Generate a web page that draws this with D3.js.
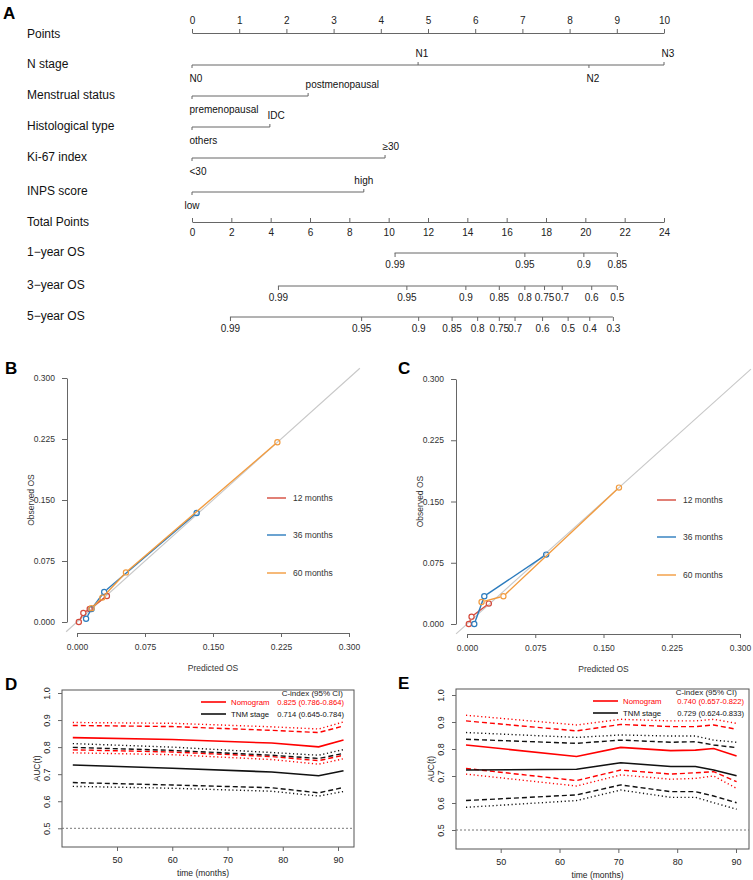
<!DOCTYPE html>
<html>
<head>
<meta charset="utf-8">
<script src="https://cdn.jsdelivr.net/npm/d3@7"></script>
<style>
body { margin: 0; background: #fff; }
text { font-family: "Liberation Sans", Arial, Helvetica, sans-serif; }
</style>
</head>
<body>
<svg id="fig" width="753" height="880"></svg>
<script>
// ---------- nomogram values ----------
var pointsTicks = d3.range(0, 11, 1);
var pointsMinor = d3.range(0, 10.01, 0.2);
var nStageLevels = ["N0", "N1", "N2", "N3"];
var nStagePoints = [0, 4.79, 8.41, 10];
var menstrualLevels = ["premenopausal", "postmenopausal"];
var menstrualPoints = [0, 2.46];
var histLevels = ["others", "IDC"];
var histPoints = [0, 1.65];
var ki67Levels = ["<30", "\u226530"];
var ki67Points = [0, 4.09];
var inpsLevels = ["low", "high"];
var inpsPoints = [0, 3.64];
var totalTicks = d3.range(0, 25, 2);
var totalMinor = d3.range(0, 24.01, 0.5);
var os1Labels = ["0.99", "0.95", "0.9", "0.85"];
var os1Total = [10.3, 16.9, 19.9, 21.6];
var os3Labels = ["0.99", "0.95", "0.9", "0.85", "0.8", "0.75", "0.7", "0.6", "0.5"];
var os3Total = [4.37, 10.9, 13.9, 15.6, 16.9, 17.9, 18.8, 20.3, 21.6];
var os5Labels = ["0.99", "0.95", "0.9", "0.85", "0.8", "0.75", "0.7", "0.6", "0.5", "0.4", "0.3"];
var os5Total = [1.93, 8.6, 11.5, 13.2, 14.5, 15.6, 16.4, 17.8, 19.1, 20.2, 21.4];

// ---------- calibration values [predicted, observed] ----------
var calTicks = [0, 0.075, 0.15, 0.225, 0.3];
var calB12 = [[0.002, 0.000], [0.007, 0.011], [0.014, 0.016], [0.033, 0.032]];
var calB36 = [[0.010, 0.004], [0.016, 0.016], [0.030, 0.037], [0.132, 0.134]];
var calB60 = [[0.016, 0.017], [0.028, 0.030], [0.054, 0.061], [0.221, 0.221]];
var calC12 = [[0.002, 0.000], [0.005, 0.009], [0.024, 0.025]];
var calC36 = [[0.008, 0.000], [0.019, 0.034], [0.087, 0.085]];
var calC60 = [[0.016, 0.027], [0.040, 0.034], [0.167, 0.167]];
var calNames = ["12 months", "36 months", "60 months"];

// ---------- time-dependent AUC values ----------
var aucTicksX = [50, 60, 70, 80, 90];
var aucTicksY = [0.5, 0.6, 0.7, 0.8, 0.9, 1.0];
var dTimes = [42, 60, 78, 86.5, 91];
var dNomAuc    = [0.835, 0.828, 0.815, 0.801, 0.826];
var dNomDashHi = [0.880, 0.876, 0.862, 0.854, 0.878];
var dNomDotHi  = [0.891, 0.888, 0.875, 0.867, 0.893];
var dNomDashLo = [0.790, 0.782, 0.765, 0.750, 0.770];
var dNomDotLo  = [0.779, 0.772, 0.754, 0.737, 0.757];
var dTnmAuc    = [0.734, 0.722, 0.708, 0.694, 0.713];
var dTnmDashHi = [0.799, 0.788, 0.770, 0.758, 0.777];
var dTnmDotHi  = [0.813, 0.800, 0.780, 0.770, 0.791];
var dTnmDashLo = [0.669, 0.660, 0.650, 0.631, 0.651];
var dTnmDotLo  = [0.655, 0.648, 0.637, 0.619, 0.636];
var dLegend = ["0.825 (0.786-0.864)", "0.714 (0.645-0.784)"];

var eTimes = [44.1, 62.9, 70.4, 78.9, 83.1, 86.2, 90.1];
var eNomAuc    = [0.815, 0.772, 0.806, 0.794, 0.796, 0.802, 0.774];
var eNomDashHi = [0.904, 0.867, 0.891, 0.883, 0.883, 0.889, 0.873];
var eNomDotHi  = [0.925, 0.889, 0.910, 0.904, 0.904, 0.910, 0.895];
var eNomDashLo = [0.728, 0.683, 0.722, 0.707, 0.712, 0.716, 0.679];
var eNomDotLo  = [0.707, 0.663, 0.704, 0.688, 0.691, 0.700, 0.654];
var eTnmAuc    = [0.722, 0.725, 0.749, 0.735, 0.735, 0.722, 0.701];
var eTnmDashHi = [0.836, 0.821, 0.833, 0.825, 0.827, 0.815, 0.805];
var eTnmDotHi  = [0.861, 0.843, 0.852, 0.848, 0.848, 0.833, 0.825];
var eTnmDashLo = [0.609, 0.630, 0.667, 0.642, 0.642, 0.626, 0.601];
var eTnmDotLo  = [0.584, 0.609, 0.648, 0.621, 0.621, 0.601, 0.577];
var eLegend = ["0.740 (0.657-0.822)", "0.729 (0.624-0.833)"];

var svg = d3.select("#fig");
svg.append("rect").attr("width", 753).attr("height", 880).attr("fill", "#fff");

var AXC = "#666";

function panelLetter(txt, x, y) {
    svg.append("text").attr("x", x).attr("y", y)
        .attr("dominant-baseline", "central")
        .attr("font-size", 17).attr("font-weight", "bold")
        .text(txt);
}

function styleAxis(g, size, color) {
    g.selectAll("path.domain").attr("stroke", AXC);
    g.selectAll(".tick line").attr("stroke", AXC);
    g.selectAll(".tick text").attr("font-size", size).attr("fill", color || "#222")
        .style("font-family", '"Liberation Sans", Arial, sans-serif');
}

/* ===================== A : nomogram ===================== */
panelLetter("A", 3, 13);

var px = d3.scaleLinear().domain([0, 10]).range([192, 664]);
var tx = d3.scaleLinear().domain([0, 24]).range([192, 664]);

function rowName(txt, y) {
    svg.append("text").attr("x", 27).attr("y", y)
        .attr("dominant-baseline", "central").attr("font-size", 12).attr("fill", "#111")
        .text(txt);
}

// Points
rowName("Points", 34);
var gP = svg.append("g").attr("transform", "translate(0,33)");
gP.call(d3.axisTop(px).tickValues(pointsMinor).tickSize(2).tickSizeOuter(0).tickFormat(""));
gP.call(d3.axisTop(px).tickValues(pointsTicks).tickSize(4).tickSizeOuter(0).tickPadding(5));
styleAxis(gP, 10);

// categorical rows
function catRow(name, levels, pts, y, sides, anchors) {
    rowName(name, y - 1);
    var g = svg.append("g");
    g.append("line").attr("x1", px(d3.min(pts))).attr("x2", px(d3.max(pts)))
        .attr("y1", y).attr("y2", y).attr("stroke", AXC);
    levels.forEach(function(l, i) {
        var up = sides[i] === "a";
        g.append("line").attr("x1", px(pts[i])).attr("x2", px(pts[i]))
            .attr("y1", y).attr("y2", up ? y - 3 : y + 3).attr("stroke", AXC);
        var mid = anchors && anchors[i] === "m";
        g.append("text")
            .attr("x", px(pts[i]) + (mid ? 0 : -2.5))
            .attr("y", up ? y - 12 : y + 13)
            .attr("dominant-baseline", "central")
            .attr("text-anchor", mid ? "middle" : "start")
            .attr("font-size", 10).attr("fill", "#111")
            .text(l);
    });
}
catRow("N stage", nStageLevels, nStagePoints, 65, ["b", "a", "b", "a"]);
catRow("Menstrual status", menstrualLevels, menstrualPoints, 96, ["b", "a"]);
catRow("Histological type", histLevels, histPoints, 127, ["b", "a"]);
catRow("Ki-67 index", ki67Levels, ki67Points, 158, ["b", "a"]);
catRow("INPS score", inpsLevels, inpsPoints, 192, ["b", "a"], ["m", "m"]);

// Total points
rowName("Total Points", 222);
var gT = svg.append("g").attr("transform", "translate(0,222)");
gT.call(d3.axisBottom(tx).tickValues(totalMinor).tickSize(-2).tickSizeOuter(0).tickFormat(""));
gT.call(d3.axisBottom(tx).tickValues(totalTicks).tickSize(-4).tickSizeOuter(0).tickPadding(7));
styleAxis(gT, 10);

// survival probability axes
function probRow(name, labels, totals, y) {
    rowName(name, y - 1);
    var g = svg.append("g").attr("transform", "translate(0," + y + ")");
    g.call(d3.axisBottom(tx).tickValues(totals).tickSize(4).tickPadding(4)
        .tickFormat(function(d, i) { return labels[i]; }));
    g.select("path.domain").remove();
    g.append("line").attr("x1", tx(d3.min(totals))).attr("x2", tx(d3.max(totals)))
        .attr("y1", 0).attr("y2", 0).attr("stroke", AXC);
    styleAxis(g, 10);
}
probRow("1\u2212year OS", os1Labels, os1Total, 253);
probRow("3\u2212year OS", os3Labels, os3Total, 286);
probRow("5\u2212year OS", os5Labels, os5Total, 317);

/* ===================== B, C : calibration ===================== */
var calColors = ["#d44a3c", "#2b7bbd", "#f29b3e"];

function drawCalib(o) {
    var x = d3.scaleLinear().domain([0, 0.3]).range([o.x0, o.x1]);
    var y = d3.scaleLinear().domain([0, 0.3]).range([o.y0, o.y1]);
    var g = svg.append("g");

    g.append("line")
        .attr("x1", x(-0.012)).attr("y1", y(-0.012))
        .attr("x2", x(0.312)).attr("y2", y(0.312))
        .attr("stroke", "#c8c8c8").attr("stroke-width", 1.1);

    var gy = g.append("g").attr("transform", "translate(" + o.ax + ",0)")
        .call(d3.axisLeft(y).tickValues(calTicks).tickFormat(d3.format(".3f"))
            .tickSize(5).tickSizeOuter(0).tickPadding(7));
    styleAxis(gy, 8.5, "#333");
    var gx = g.append("g").attr("transform", "translate(0," + o.ay + ")")
        .call(d3.axisBottom(x).tickValues(calTicks).tickFormat(d3.format(".3f"))
            .tickSize(4).tickSizeOuter(0).tickPadding(7));
    styleAxis(gx, 8.5, "#333");

    g.append("text").attr("x", (o.x0 + o.x1) / 2).attr("y", o.ay + 35)
        .attr("text-anchor", "middle").attr("dominant-baseline", "central")
        .attr("font-size", 8.5).attr("fill", "#333").text("Predicted OS");
    g.append("text")
        .attr("transform", "translate(" + (o.ax - 36) + "," + (o.y0 + o.y1) / 2 + ") rotate(-90)")
        .attr("text-anchor", "middle").attr("dominant-baseline", "central")
        .attr("font-size", 8.5).attr("fill", "#333").text("Observed OS");

    var r = 2.6;
    o.series.forEach(function(s, k) {
        for (var i = 0; i < s.length - 1; i++) {
            var x1 = x(s[i][0]), y1 = y(s[i][1]), x2 = x(s[i + 1][0]), y2 = y(s[i + 1][1]);
            var len = Math.hypot(x2 - x1, y2 - y1);
            if (len <= 2 * r + 1) continue;
            var ux = (x2 - x1) / len, uy = (y2 - y1) / len, c = r + 0.6;
            g.append("line")
                .attr("x1", x1 + ux * c).attr("y1", y1 + uy * c)
                .attr("x2", x2 - ux * c).attr("y2", y2 - uy * c)
                .attr("stroke", calColors[k]).attr("stroke-width", 1.4);
        }
        g.selectAll(null).data(s).enter().append("circle")
            .attr("cx", function(d) { return x(d[0]); })
            .attr("cy", function(d) { return y(d[1]); })
            .attr("r", r).attr("fill", "none")
            .attr("stroke", calColors[k]).attr("stroke-width", 1.2);
    });

    var legOff = [124, 87, 49];
    calNames.forEach(function(n, k) {
        var ly = o.y0 - legOff[k];
        g.append("line").attr("x1", o.x0 + 190).attr("x2", o.x0 + 209)
            .attr("y1", ly).attr("y2", ly)
            .attr("stroke", calColors[k]).attr("stroke-width", 1.4);
        g.append("text").attr("x", o.x0 + 216).attr("y", ly)
            .attr("dominant-baseline", "central").attr("font-size", 8.5).attr("fill", "#333")
            .text(n);
    });
}

panelLetter("B", 5, 368);
drawCalib({ x0: 77, x1: 349, y0: 622, y1: 378, ax: 67, ay: 633, series: [calB12, calB36, calB60] });
panelLetter("C", 398, 368);
drawCalib({ x0: 467, x1: 740, y0: 624, y1: 379, ax: 456, ay: 634, series: [calC12, calC36, calC60] });

/* ===================== D, E : time-dependent AUC ===================== */
function drawAUC(o) {
    var x = d3.scaleLinear().domain([50, 90]).range([o.x50, o.x90]);
    var y = d3.scaleLinear().domain([0.5, 1.0]).range([o.y05, o.y10]);
    var g = svg.append("g");

    g.append("rect").attr("x", o.left).attr("y", o.top)
        .attr("width", o.right - o.left).attr("height", o.bottom - o.top)
        .attr("fill", "none").attr("stroke", "#555");

    var gx = g.append("g").attr("transform", "translate(0," + o.bottom + ")")
        .call(d3.axisBottom(x).tickValues(aucTicksX).tickSize(4).tickPadding(6));
    gx.select("path.domain").remove();
    styleAxis(gx, 9, "#222");

    var gy = g.append("g").attr("transform", "translate(" + o.left + ",0)")
        .call(d3.axisLeft(y).tickValues(aucTicksY).tickFormat(d3.format(".1f")).tickSize(4));
    gy.select("path.domain").remove();
    styleAxis(gy, 9, "#222");
    gy.selectAll(".tick text")
        .attr("x", null).attr("dy", null)
        .attr("text-anchor", "middle").attr("dominant-baseline", "central")
        .attr("transform", "translate(-15,0) rotate(-90)");

    g.append("text").attr("x", (o.left + o.right) / 2 - 5).attr("y", o.bottom + 26)
        .attr("text-anchor", "middle").attr("dominant-baseline", "central")
        .attr("font-size", 8.5).attr("fill", "#222").text("time (months)");
    g.append("text")
        .attr("transform", "translate(" + (o.left - 25) + "," + (o.top + o.bottom) / 2 + ") rotate(-90)")
        .attr("text-anchor", "middle").attr("dominant-baseline", "central")
        .attr("font-size", 8.5).attr("fill", "#222").text("AUC(t)");

    g.append("line").attr("x1", o.left).attr("x2", o.right)
        .attr("y1", y(0.5)).attr("y2", y(0.5))
        .attr("stroke", "#777").attr("stroke-dasharray", "2,2");

    var line = d3.line()
        .x(function(d, i) { return x(o.times[i]); })
        .y(function(d) { return y(d); });
    var styles = { solid: [null, 1.6], dash: ["5,3", 1.4], dot: ["1.2,2.6", 1.4] };
    o.curves.forEach(function(c) {
        g.append("path").attr("d", line(c[0]))
            .attr("fill", "none").attr("stroke", c[1])
            .attr("stroke-width", styles[c[2]][1])
            .attr("stroke-dasharray", styles[c[2]][0]);
    });

    // legend
    var rx = o.right;
    g.append("text").attr("x", rx - o.hdrEnd).attr("y", o.top + 3)
        .attr("text-anchor", "end").attr("dominant-baseline", "central")
        .attr("font-size", 8).attr("fill", "#222").text("C-index (95% CI)");
    [["Nomogram", "#f00", 12], ["TNM stage", "#111", 24]].forEach(function(row, k) {
        var ly = o.top + row[2];
        g.append("line").attr("x1", rx - o.legX).attr("x2", rx - o.legX + 25)
            .attr("y1", ly).attr("y2", ly).attr("stroke", row[1]).attr("stroke-width", 1.6);
        g.append("text").attr("x", rx - o.legX + 30).attr("y", ly)
            .attr("dominant-baseline", "central").attr("font-size", 7.8).attr("fill", row[1])
            .text(row[0]);
        g.append("text").attr("x", rx - o.valEnd).attr("y", ly)
            .attr("text-anchor", "end").attr("dominant-baseline", "central")
            .attr("font-size", 7.6).attr("fill", row[1])
            .text(o.legend[k]);
    });
}

panelLetter("D", 5, 684);
drawAUC({
    left: 62, right: 354, top: 690, bottom: 847,
    x50: 117, x90: 338, y05: 828.3, y10: 693,
    legX: 153, valEnd: 10, hdrEnd: 11,
    times: dTimes, legend: dLegend,
    curves: [
        [dNomDotHi, "#f00", "dot"], [dNomDashHi, "#f00", "dash"], [dNomAuc, "#f00", "solid"],
        [dNomDashLo, "#f00", "dash"], [dNomDotLo, "#f00", "dot"],
        [dTnmDotHi, "#111", "dot"], [dTnmDashHi, "#111", "dash"], [dTnmAuc, "#111", "solid"],
        [dTnmDashLo, "#111", "dash"], [dTnmDotLo, "#111", "dot"]
    ]
});
panelLetter("E", 398, 683);
drawAUC({
    left: 456, right: 749, top: 689, bottom: 849,
    x50: 500.7, x90: 736, y05: 830, y10: 695,
    legX: 156, valEnd: 5, hdrEnd: 12,
    times: eTimes, legend: eLegend,
    curves: [
        [eNomDotHi, "#f00", "dot"], [eNomDashHi, "#f00", "dash"], [eNomAuc, "#f00", "solid"],
        [eNomDashLo, "#f00", "dash"], [eNomDotLo, "#f00", "dot"],
        [eTnmDotHi, "#111", "dot"], [eTnmDashHi, "#111", "dash"], [eTnmAuc, "#111", "solid"],
        [eTnmDashLo, "#111", "dash"], [eTnmDotLo, "#111", "dot"]
    ]
});
</script>
</body>
</html>
